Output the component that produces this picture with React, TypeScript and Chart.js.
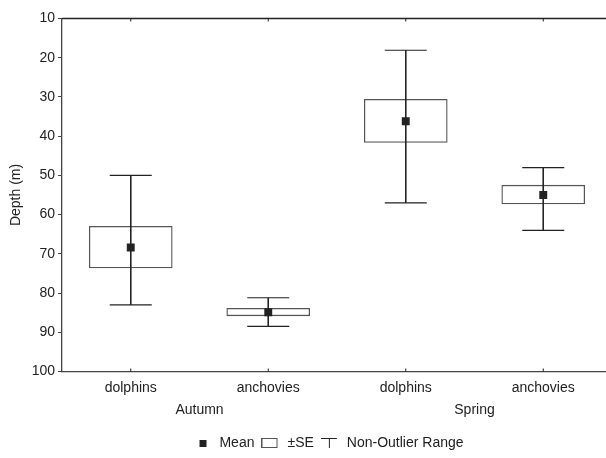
import React, { useEffect, useRef } from 'react';
import { Chart, registerables } from 'chart.js';

Chart.register(...registerables);

const categories = ['dolphins', 'anchovies', 'dolphins', 'anchovies'];
const seasons = ['Autumn', 'Spring'];
const means = [68.4, 84.9, 36.2, 55.0];
const seTop = [63.0, 83.9, 30.6, 52.5];
const seBottom = [73.6, 85.8, 41.6, 57.3];
const rangeTop = [50.0, 81.2, 18.1, 48.0];
const rangeBottom = [83.0, 88.5, 57.0, 64.0];
const yTicks = [10, 20, 30, 40, 50, 60, 70, 80, 90, 100];
const legendTexts = ['Mean', '±SE', 'Non-Outlier Range'];
const yTitle = 'Depth (m)';

const FONT = "'Liberation Sans', Arial, sans-serif";
const DARK = '#222222';
const AXIS = '#444444';

function makeIcon(w: number, h: number, draw: (g: CanvasRenderingContext2D) => void) {
  const c = document.createElement('canvas');
  c.width = w;
  c.height = h;
  const g = c.getContext('2d') as CanvasRenderingContext2D;
  draw(g);
  return c;
}

const framePlugin = {
  id: 'frame',
  afterDatasetsDraw(chart: any) {
    const { ctx, chartArea, scales } = chart;
    const { left, right, top, bottom } = chartArea;
    const x = scales.x;
    ctx.save();
    ctx.strokeStyle = DARK;
    ctx.lineWidth = 1.4;
    ctx.beginPath();
    ctx.moveTo(left, top);
    ctx.lineTo(right, top);
    ctx.lineTo(right, bottom);
    ctx.stroke();
    ctx.lineWidth = 1;
    ctx.beginPath();
    x.ticks.forEach((t: any) => {
      const px = x.getPixelForValue(t.value);
      ctx.moveTo(px, top);
      ctx.lineTo(px, top + 3);
      ctx.moveTo(px, bottom);
      ctx.lineTo(px, bottom - 3);
    });
    ctx.stroke();
    ctx.restore();
  },
};

export default function App() {
  const ref = useRef<HTMLCanvasElement | null>(null);

  useEffect(() => {
    if (!ref.current) return;

    const iconMean = makeIcon(16, 14, (g) => {
      g.fillStyle = DARK;
      g.fillRect(3, 4, 7, 7);
    });
    const iconSE = makeIcon(22, 14, (g) => {
      g.strokeStyle = '#555';
      g.lineWidth = 1;
      g.strokeRect(0.5, 2.5, 15, 9);
    });
    const iconRange = makeIcon(22, 14, (g) => {
      g.strokeStyle = DARK;
      g.lineWidth = 1;
      g.beginPath();
      g.moveTo(0, 2.5);
      g.lineTo(16, 2.5);
      g.moveTo(8.5, 2.5);
      g.lineTo(8.5, 12);
      g.stroke();
    });
    const icons = [iconMean, iconSE, iconRange];

    const boxData = categories.map((_, i) => ({ x: i, y: [seTop[i], seBottom[i]] }));
    const whiskerData = categories.flatMap((_, i) => [
      { x: i, y: rangeTop[i] },
      { x: i, y: rangeBottom[i] },
      { x: i, y: null },
    ]);
    const capData = categories.flatMap((_, i) => [
      { x: i, y: rangeTop[i] },
      { x: i, y: rangeBottom[i] },
    ]);
    const meanData = means.map((m, i) => ({ x: i, y: m }));

    const chart = new Chart(ref.current, {
      type: 'bar',
      data: {
        datasets: [
          {
            type: 'bar',
            label: legendTexts[1],
            data: boxData as any,
            backgroundColor: '#ffffff',
            borderColor: '#555555',
            borderWidth: 1.3,
            borderSkipped: false,
            barThickness: 83,
            order: 4,
          },
          {
            type: 'line',
            label: 'whisker',
            data: whiskerData as any,
            borderColor: DARK,
            borderWidth: 1,
            pointRadius: 0,
            spanGaps: false,
            order: 3,
          },
          {
            type: 'scatter',
            label: legendTexts[2],
            data: capData as any,
            pointStyle: 'line',
            pointRadius: 21,
            borderColor: DARK,
            borderWidth: 1.2,
            order: 2,
          },
          {
            type: 'scatter',
            label: legendTexts[0],
            data: meanData as any,
            pointStyle: 'rect',
            pointRadius: 5.6,
            backgroundColor: DARK,
            borderWidth: 0,
            order: 1,
          },
        ],
      },
      options: {
        responsive: false,
        animation: false,
        devicePixelRatio: 1,
        layout: { autoPadding: false, padding: { left: 0, right: 0, top: 18.5, bottom: -2 } },
        plugins: {
          tooltip: { enabled: false },
          legend: {
            display: true,
            position: 'bottom',
            labels: {
              usePointStyle: true,
              pointStyleWidth: 16,
              padding: 10,
              color: DARK,
              font: { family: FONT, size: 14 },
              generateLabels: () =>
                legendTexts.map((t, i) => ({
                  text: t,
                  pointStyle: icons[i] as any,
                  fillStyle: 'transparent',
                  strokeStyle: 'transparent',
                  lineWidth: 0,
                  hidden: false,
                  fontColor: DARK,
                })) as any,
            },
          },
        },
        scales: {
          x: {
            type: 'linear',
            position: 'bottom',
            offset: false,
            min: -0.5,
            max: categories.length - 0.5,
            weight: 0,
            afterFit: (s: any) => {
              s.height = 24;
            },
            afterBuildTicks: (s: any) => {
              s.ticks = categories.map((_, i) => ({ value: i }));
            },
            ticks: {
              autoSkip: false,
              maxRotation: 0,
              padding: 8,
              color: DARK,
              font: { family: FONT, size: 14 },
              callback: (v: any) => categories[v as number],
            },
            grid: { display: true, offset: false, drawOnChartArea: false, drawTicks: false },
            border: { display: true, color: AXIS, width: 1.3 },
          },
          x2: {
            type: 'linear',
            position: 'bottom',
            offset: false,
            min: -0.5,
            max: categories.length - 0.5,
            weight: 1,
            afterFit: (s: any) => {
              s.height = 30.5;
            },
            afterBuildTicks: (s: any) => {
              s.ticks = seasons.map((_, g) => ({ value: g * 2 + 0.5 }));
            },
            ticks: {
              autoSkip: false,
              maxRotation: 0,
              padding: 6,
              color: DARK,
              font: { family: FONT, size: 14 },
              callback: (v: any) => seasons[Math.floor((v as number) / 2)],
            },
            grid: { display: false, drawTicks: false },
            border: { display: false },
          },
          y: {
            type: 'linear',
            position: 'left',
            reverse: true,
            min: yTicks[0],
            max: yTicks[yTicks.length - 1],
            afterFit: (s: any) => {
              s.width = 62;
              s.paddingTop = 0;
              s.paddingBottom = 0;
            },
            afterBuildTicks: (s: any) => {
              s.ticks = yTicks.map((v) => ({ value: v }));
            },
            ticks: {
              padding: 3,
              color: DARK,
              font: { family: FONT, size: 14 },
            },
            grid: { display: true, drawOnChartArea: false, drawTicks: true, tickLength: 4, color: AXIS },
            border: { display: true, color: AXIS, width: 1.3 },
            title: {
              display: true,
              text: yTitle,
              color: DARK,
              font: { family: FONT, size: 14 },
              padding: { top: 8, bottom: 0 },
            },
          },
          yRight: {
            type: 'linear',
            position: 'right',
            min: yTicks[0],
            max: yTicks[yTicks.length - 1],
            afterFit: (s: any) => {
              s.width = 48;
              s.paddingTop = 0;
              s.paddingBottom = 0;
            },
            ticks: { display: false },
            grid: { display: false, drawTicks: false },
            border: { display: false },
          },
        },
      },
      plugins: [framePlugin],
    });

    return () => chart.destroy();
  }, []);

  return (
    <div style={{ position: 'absolute', left: 0, top: 0, width: 606, height: 458, overflow: 'hidden', background: '#fff' }}>
      <canvas ref={ref} width={660} height={458} style={{ width: 660, height: 458, display: 'block' }} />
    </div>
  );
}
